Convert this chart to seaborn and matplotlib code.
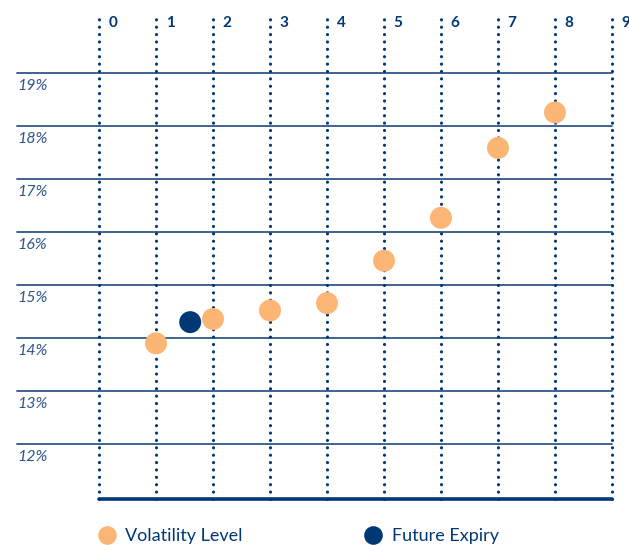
import matplotlib
matplotlib.use("Agg")
import matplotlib.pyplot as plt
import matplotlib.transforms as mtransforms
import seaborn as sns
import pandas as pd

# ---- data ----
vol_tenor = [1, 2, 3, 4, 5, 6, 7, 8]
vol_level = [13.9, 14.36, 14.52, 14.66, 15.46, 16.27, 17.59, 18.26]
fut_tenor = [1.6]
fut_level = [14.3]
series_names = ["Volatility Level", "Future Expiry"]
x_ticks = [0, 1, 2, 3, 4, 5, 6, 7, 8, 9]
x_tick_labels = ["0", "1", "2", "3", "4", "5", "6", "7", "8", "9"]
y_ticks = [12, 13, 14, 15, 16, 17, 18, 19]
y_tick_labels = ["12%", "13%", "14%", "15%", "16%", "17%", "18%", "19%"]

ORANGE = "#FBB675"
NAVY = "#003876"
GRID = "#2f5688"

df = pd.DataFrame({
    "tenor": vol_tenor + fut_tenor,
    "vol": vol_level + fut_level,
    "series": [series_names[0]] * len(vol_tenor) + [series_names[1]] * len(fut_tenor),
})

sns.set_theme(style="white")
plt.rcParams["font.family"] = ["Lato", "DejaVu Sans"]

fig = plt.figure(figsize=(6.29, 5.45), dpi=100)
ax = fig.add_axes([99 / 629, 1 - 499 / 545, (612 - 99) / 629, (499 - 15) / 545])
ax.set_xlim(0, 9)
ax.set_ylim(10.96, 20.1)

# horizontal gridlines extending into label area
for yv in y_ticks:
    ax.axhline(yv, xmin=(17 - 99) / 513, xmax=1.0, color=GRID, lw=1.3, clip_on=False, zorder=1)

# vertical dotted lines
for xv in x_ticks:
    ax.axvline(xv, color=NAVY, lw=2.3, linestyle=(0, (0.01, 2.3)), dash_capstyle="round",
               zorder=2, clip_on=False)

# bottom axis line
ax.axhline(10.96, color=NAVY, lw=2.6, zorder=3, clip_on=False)

sns.scatterplot(data=df, x="tenor", y="vol", hue="series",
                palette={series_names[0]: ORANGE, series_names[1]: NAVY},
                s=250, edgecolor="none", linewidth=0, ax=ax, zorder=5, legend=True)

for sp in ax.spines.values():
    sp.set_visible(False)
ax.set_xticks([])
ax.set_yticks([])
ax.set_xlabel("")
ax.set_ylabel("")

# x labels at top, right of each line
tx = mtransforms.offset_copy(ax.transData, fig=fig, x=14 * 72 / 100, y=0, units="points")
for xv, lab in zip(x_ticks, x_tick_labels):
    ax.text(xv, 19.95, lab, transform=tx, ha="center", va="center",
            fontsize=11, fontweight="bold", color=NAVY, clip_on=False)

# y labels below each gridline, at left
ty = mtransforms.blended_transform_factory(fig.transFigure, ax.transData)
ty = mtransforms.offset_copy(ty, fig=fig, x=0, y=-13 * 72 / 100, units="points")
for yv, lab in zip(y_ticks, y_tick_labels):
    ax.text(17 / 629, yv, lab, transform=ty, ha="left", va="center",
            fontsize=11.5, fontstyle="italic", color="#2f5688")

# legend
leg = ax.legend(loc="center left", bbox_to_anchor=(98 / 629, 1 - 536 / 545),
                bbox_transform=fig.transFigure, ncol=2, frameon=False,
                fontsize=13, handlelength=1.0, handletextpad=0.5, columnspacing=6.75,
                markerscale=0.85, borderaxespad=0, borderpad=0)
for t in leg.get_texts():
    t.set_color(NAVY)

fig.savefig("out.png", dpi=100)
